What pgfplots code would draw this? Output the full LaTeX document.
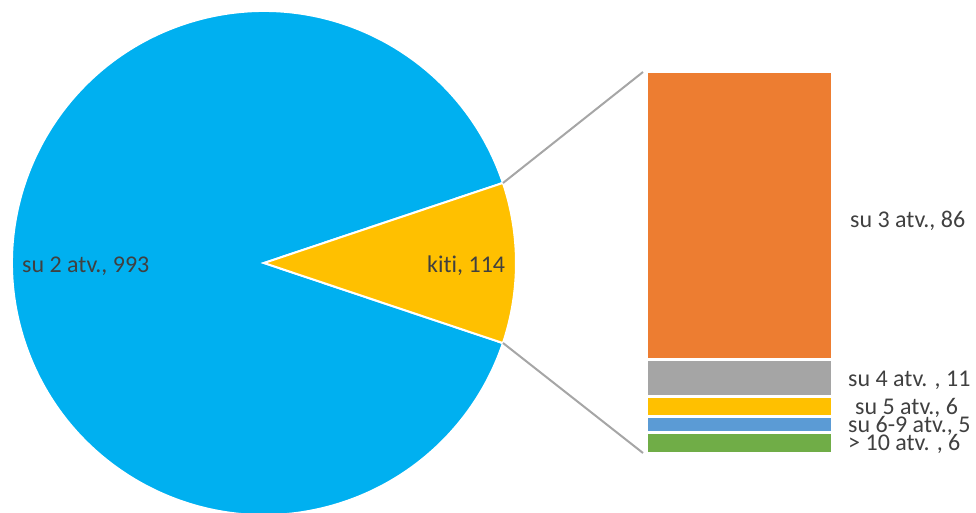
\documentclass[border=0pt]{standalone}
\usepackage{pgfplots}
\pgfplotsset{compat=1.18}
\usepackage{fontspec}
\setmainfont{Carlito}[Ligatures={NoCommon}]

\definecolor{pieblue}{HTML}{00B0F0}
\definecolor{pieyellow}{HTML}{FFC000}
\definecolor{barorange}{HTML}{ED7D31}
\definecolor{bargray}{HTML}{A5A5A5}
\definecolor{baryellow}{HTML}{FFC000}
\definecolor{barblue}{HTML}{5B9BD5}
\definecolor{bargreen}{HTML}{70AD47}
\definecolor{txt}{HTML}{404040}
\definecolor{conn}{HTML}{A6A6A6}

% pie: su 2 atv. = 993, kiti = 114
\pgfmathsetmacro{\pieA}{993}
\pgfmathsetmacro{\pieB}{114}
\pgfmathsetmacro{\half}{\pieB/(\pieA+\pieB)*180}
\pgfmathsetmacro{\lo}{-\half}
\pgfmathsetmacro{\hi}{360-\half}

\begin{document}
\begin{tikzpicture}[every node/.style={text=txt, font=\fontsize{24}{28}\selectfont, inner sep=0pt}]
\useasboundingbox (0,0) rectangle (976pt,512pt);

% pie part, one unit = one pixel
\begin{axis}[
  at={(0,0)}, anchor=south west,
  scale only axis, width=976pt, height=512pt,
  xmin=0, xmax=976, ymin=0, ymax=512,
  axis lines=none, clip=false,
]
\fill[pieblue, draw=white, line width=2pt]
  (axis cs:264,249) -- ++(\half:252pt) arc[start angle=\half, end angle=\hi, radius=252pt] -- cycle;
\fill[pieyellow, draw=white, line width=2pt]
  (axis cs:264,249) -- ++(\lo:252pt) arc[start angle=\lo, end angle=\half, radius=252pt] -- cycle;
\draw[conn, line width=2pt] (axis cs:503,329) -- (axis cs:643,440);
\draw[conn, line width=2pt] (axis cs:503,169) -- (axis cs:643,59);

\node[anchor=base west] at (axis cs:22,240) {su 2 atv., 993};
\node[anchor=base west] at (axis cs:427,240) {kiti, 114};
\node[anchor=base west] at (axis cs:850,285) {su 3 atv., 86};
\node[anchor=base west] at (axis cs:848,126) {su 4 atv. , 11};
\node[anchor=base west] at (axis cs:855,98) {su 5 atv., 6};
\node[anchor=base west] at (axis cs:848,80) {su 6-9 atv., 5};
\node[anchor=base west] at (axis cs:848,62) {> 10 atv. , 6};
\end{axis}

% bar of the kiti slice
\begin{axis}[
  at={(646pt,59pt)}, anchor=south west,
  scale only axis, width=186pt, height=381pt,
  xmin=-0.5, xmax=0.5, ymin=0, ymax=114,
  axis lines=none, ybar stacked, bar width=186pt,
  every axis plot/.append style={draw=white, line width=3pt},
]
\addplot[fill=bargreen] coordinates {(0,6)};
\addplot[fill=barblue] coordinates {(0,5)};
\addplot[fill=baryellow] coordinates {(0,6)};
\addplot[fill=bargray] coordinates {(0,11)};
\addplot[fill=barorange] coordinates {(0,86)};
\end{axis}
\end{tikzpicture}
\end{document}
